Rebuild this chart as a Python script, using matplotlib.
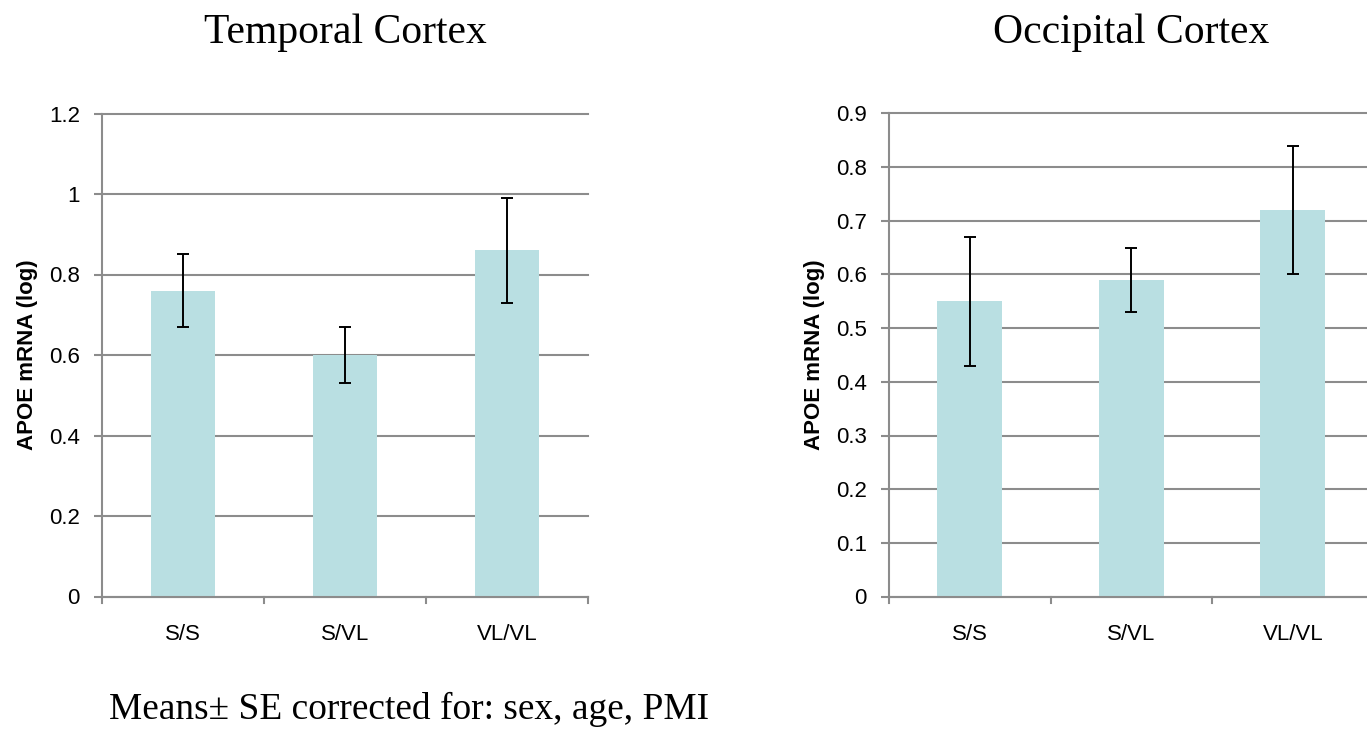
import matplotlib.pyplot as plt

genotypes = ["S/S", "S/VL", "VL/VL"]

temporal_mean = [0.76, 0.60, 0.86]
temporal_se = [0.09, 0.07, 0.13]

occipital_mean = [0.55, 0.59, 0.72]
occipital_se = [0.12, 0.06, 0.12]

temporal_ticks = [0, 0.2, 0.4, 0.6, 0.8, 1, 1.2]
occipital_ticks = [0, 0.1, 0.2, 0.3, 0.4, 0.5, 0.6, 0.7, 0.8, 0.9]

bar_color = "#b9dfe2"
grid_color = "#8c8c8c"

fig = plt.figure(figsize=(13.67, 7.29), dpi=100)

W, H = 1367.0, 729.0


def panel(left, right, top, bottom, means, errs, ticks, title):
    ax = fig.add_axes([left / W, 1 - bottom / H, (right - left) / W, (bottom - top) / H])
    x = range(len(genotypes))
    ax.bar(x, means, width=0.4, color=bar_color, zorder=2)
    ax.errorbar(x, means, yerr=errs, fmt="none", ecolor="black", elinewidth=1.4,
                capsize=4.3, capthick=1.4, zorder=3)
    ax.set_xlim(-0.5, len(genotypes) - 0.5)
    ax.set_ylim(0, ticks[-1])
    ax.set_yticks(ticks)
    ax.set_yticklabels([f"{t:g}" for t in ticks], fontsize=16, family="Liberation Sans")
    ax.set_xticks(list(x))
    ax.set_xticklabels(genotypes, fontsize=16, family="Liberation Sans")
    ax.tick_params(axis="x", length=0, pad=20)
    ax.tick_params(axis="y", length=6, width=1.5, color=grid_color, pad=10)
    # category separators on the x axis
    for b in [-0.5, 0.5, 1.5, 2.5]:
        ax.plot([b, b], [0, -ticks[-1] * 0.013], color=grid_color, lw=1.5,
                clip_on=False, zorder=1)
    ax.yaxis.grid(True, color=grid_color, lw=1.5, zorder=0)
    for line in ax.get_ygridlines():
        line.set_clip_on(False)
    for s in ["top", "right"]:
        ax.spines[s].set_visible(False)
    ax.spines["left"].set_color(grid_color)
    ax.spines["left"].set_linewidth(1.5)
    ax.spines["bottom"].set_color(grid_color)
    ax.spines["bottom"].set_linewidth(1.5)
    ax.set_ylabel("APOE mRNA (log)", fontsize=16, fontweight="bold",
                  family="Liberation Sans", labelpad=8)
    ax.set_title(title, fontsize=30, family="Liberation Serif", pad=51)
    return ax


panel(102, 588, 113.5, 596.5, temporal_mean, temporal_se, temporal_ticks, "Temporal Cortex")
panel(889, 1373.5, 113.5, 596.5, occipital_mean, occipital_se, occipital_ticks, "Occipital Cortex")

fig.text(109 / W, 1 - 719 / H, "Means\u00b1 SE corrected for: sex, age, PMI",
         fontsize=26.9, family="Liberation Serif", va="baseline", ha="left")

fig.savefig("out.png", dpi=100)
